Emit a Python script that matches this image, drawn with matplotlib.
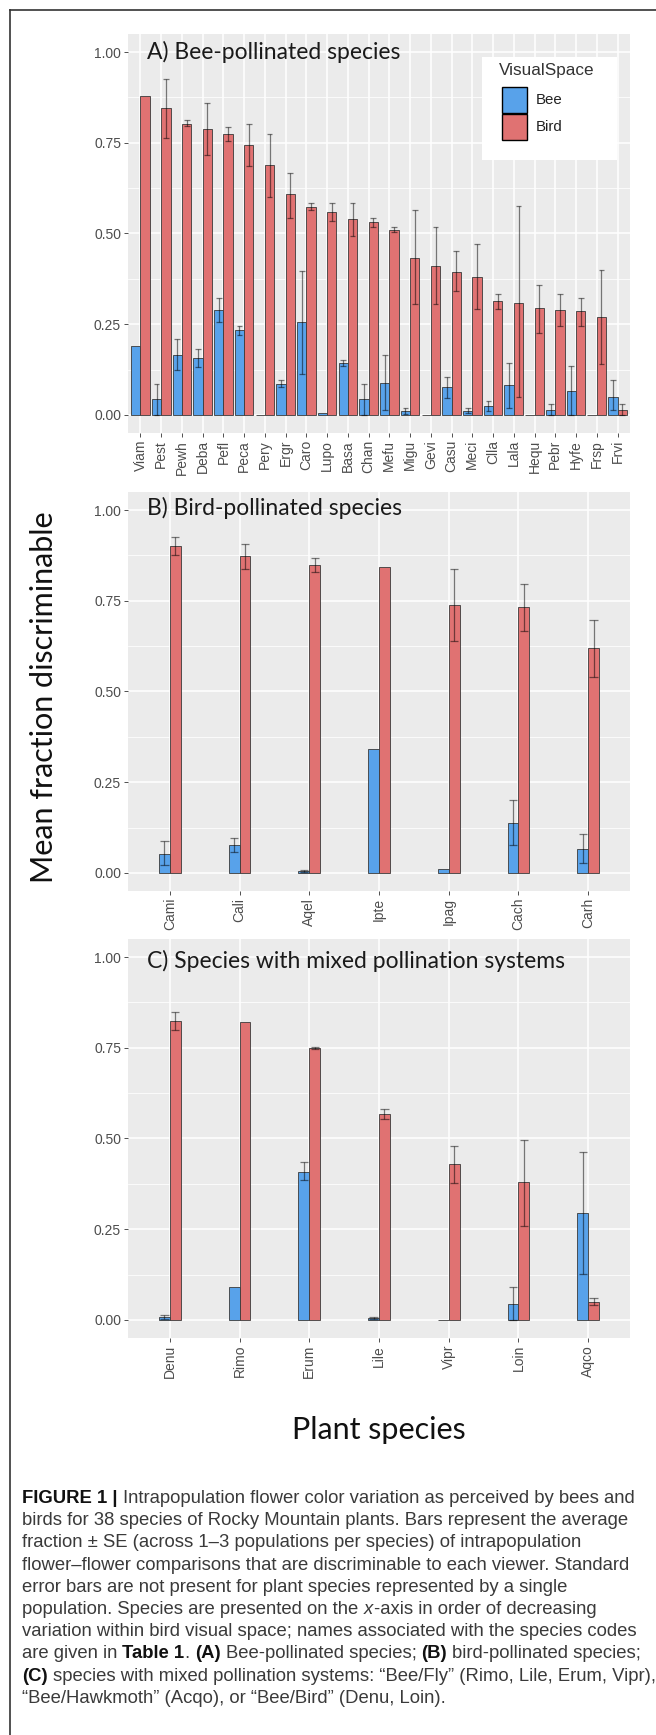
import numpy as np
import matplotlib
matplotlib.use("Agg")
import matplotlib.pyplot as plt
from matplotlib.lines import Line2D
from matplotlib.patches import Rectangle

nan = np.nan

# ---------------- data ----------------
cats_a = ["Viam", "Pest", "Pewh", "Deba", "Pefl", "Peca", "Pery", "Ergr", "Caro", "Lupo",
          "Basa", "Chan", "Mefu", "Migu", "Gevi", "Casu", "Meci", "Clla", "Lala", "Hequ",
          "Pebr", "Hyfe", "Frsp", "Frvi"]
bird_a = [0.878, 0.846, 0.803, 0.787, 0.773, 0.745, 0.688, 0.608, 0.573, 0.560,
          0.540, 0.531, 0.511, 0.433, 0.410, 0.394, 0.380, 0.314, 0.309, 0.295,
          0.290, 0.285, 0.270, 0.014]
bird_a_lo = [nan, 0.764, 0.795, 0.716, 0.755, 0.686, 0.601, 0.544, 0.564, 0.534,
             0.494, 0.518, 0.504, 0.305, 0.305, 0.341, 0.291, 0.291, 0.050, 0.227,
             0.245, 0.245, 0.141, 0.000]
bird_a_hi = [nan, 0.927, 0.812, 0.861, 0.794, 0.803, 0.773, 0.668, 0.583, 0.583,
             0.583, 0.544, 0.518, 0.564, 0.517, 0.451, 0.471, 0.332, 0.575, 0.359,
             0.332, 0.323, 0.398, 0.030]
bee_a = [0.190, 0.043, 0.165, 0.158, 0.290, 0.234, 0.001, 0.085, 0.256, 0.006,
         0.143, 0.043, 0.089, 0.011, 0.001, 0.076, 0.011, 0.025, 0.083, 0.001,
         0.014, 0.067, 0.001, 0.048]
bee_a_lo = [nan, 0.000, 0.123, 0.132, 0.256, 0.220, nan, 0.077, 0.114, nan,
            0.134, 0.000, 0.014, 0.003, nan, 0.047, 0.005, 0.011, 0.018, nan,
            0.000, 0.000, nan, 0.014]
bee_a_hi = [nan, 0.086, 0.208, 0.182, 0.323, 0.245, nan, 0.095, 0.397, nan,
            0.152, 0.086, 0.164, 0.020, nan, 0.105, 0.020, 0.039, 0.143, nan,
            0.030, 0.134, nan, 0.095]

cats_b = ["Cami", "Cali", "Aqel", "Ipte", "Ipag", "Cach", "Carh"]
bird_b = [0.902, 0.873, 0.850, 0.844, 0.739, 0.732, 0.619]
bird_b_lo = [0.876, 0.839, 0.830, nan, 0.638, 0.667, 0.541]
bird_b_hi = [0.925, 0.908, 0.869, nan, 0.837, 0.795, 0.696]
bee_b = [0.053, 0.078, 0.005, 0.342, 0.010, 0.138, 0.067]
bee_b_lo = [0.021, 0.058, 0.003, nan, nan, 0.076, 0.028]
bee_b_hi = [0.087, 0.096, 0.009, nan, nan, 0.200, 0.106]

cats_c = ["Denu", "Rimo", "Erum", "Lile", "Vipr", "Loin", "Aqco"]
bird_c = [0.825, 0.820, 0.750, 0.567, 0.429, 0.379, 0.049]
bird_c_lo = [0.800, nan, 0.746, 0.553, 0.378, 0.260, 0.040]
bird_c_hi = [0.848, nan, 0.753, 0.582, 0.480, 0.496, 0.059]
bee_c = [0.008, 0.090, 0.408, 0.006, 0.001, 0.045, 0.294]
bee_c_lo = [0.003, nan, 0.386, 0.003, nan, 0.000, 0.127]
bee_c_hi = [0.013, nan, 0.434, 0.009, nan, 0.090, 0.463]

yticks = [0.00, 0.25, 0.50, 0.75, 1.00]
ytick_labels = ["0.00", "0.25", "0.50", "0.75", "1.00"]

panel_titles = ["A) Bee-pollinated species", "B) Bird-pollinated species",
                "C) Species with mixed pollination systems"]
legend_title = "VisualSpace"
series_names = ["Bee", "Bird"]
ylabel = "Mean fraction discriminable"
xlabel = "Plant species"

caption_lines = [
    [("FIGURE 1 |", "b"), ("Intrapopulation flower color variation as perceived by bees and", "n")],
    [("birds for 38 species of Rocky Mountain plants. Bars represent the average", "n")],
    [("fraction \u00b1 SE (across 1\u20133 populations per species) of intrapopulation", "n")],
    [("flower\u2013flower comparisons that are discriminable to each viewer. Standard", "n")],
    [("error bars are not present for plant species represented by a single", "n")],
    [("population. Species are presented on the", "n"), ("x", "i"),
     ("-axis in order of decreasing", "nj")],
    [("variation within bird visual space; names associated with the species codes", "n")],
    [("are given in", "n"), ("Table 1", "b"), (".", "nj"), ("(A)", "b"),
     ("Bee-pollinated species;", "n"), ("(B)", "b"), ("bird-pollinated species;", "n")],
    [("(C)", "b"), ("species with mixed pollination systems: \u201cBee/Fly\u201d (Rimo, Lile, Erum, Vipr),", "n")],
    [("\u201cBee/Hawkmoth\u201d (Acqo), or \u201cBee/Bird\u201d (Denu, Loin).", "n")],
]

# ---------------- style ----------------
W, H, DPI = 656, 1735, 100
BEE_COL = "#58A2EA"
BIRD_COL = "#E07272"
PANEL_BG = "#EBEBEB"
TITLE_FONT = ["Lato", "DejaVu Sans"]
CAP_FONT = ["Liberation Sans", "DejaVu Sans"]

fig = plt.figure(figsize=(W / DPI, H / DPI), dpi=DPI)
fig.patch.set_facecolor("white")


def rect(left, top, right, bottom):
    return [left / W, 1 - bottom / H, (right - left) / W, (bottom - top) / H]


def fx(px):
    return px / W


def fy(py):
    return 1 - py / H


def draw_panel(ax, cats, bee, bee_lo, bee_hi, bird, bird_lo, bird_hi, total_w):
    n = len(cats)
    x = np.arange(n)
    ax.set_facecolor(PANEL_BG)
    for s in ax.spines.values():
        s.set_visible(False)
    ax.set_xlim(-0.6, n - 0.4)
    ax.set_ylim(-0.05, 1.05)
    # grid
    for v in [0.125, 0.375, 0.625, 0.875]:
        ax.axhline(v, color="white", lw=0.55, zorder=0)
    for v in yticks:
        ax.axhline(v, color="white", lw=1.1, zorder=0)
    for xi in x:
        ax.axvline(xi, color="white", lw=1.1, zorder=0)
    bw = total_w / 2
    xb = x - bw / 2
    xr = x + bw / 2
    ax.bar(xb, bee, width=bw, color=BEE_COL, edgecolor="#3a3a3a", linewidth=0.6, zorder=2)
    ax.bar(xr, bird, width=bw, color=BIRD_COL, edgecolor="#3a3a3a", linewidth=0.6, zorder=2)
    for xs, ys, lo, hi in [(xb, bee, bee_lo, bee_hi), (xr, bird, bird_lo, bird_hi)]:
        xs = np.asarray(xs); lo = np.asarray(lo); hi = np.asarray(hi)
        m = ~np.isnan(lo)
        ax.vlines(xs[m], lo[m], hi[m], colors="black", alpha=0.5, lw=0.9, zorder=3)
        cw = min(0.14, bw * 0.38)
        ax.hlines(lo[m], xs[m] - cw, xs[m] + cw, colors="black", alpha=0.5, lw=0.9, zorder=3)
        ax.hlines(hi[m], xs[m] - cw, xs[m] + cw, colors="black", alpha=0.5, lw=0.9, zorder=3)
    ax.set_yticks(yticks)
    ax.set_yticklabels(ytick_labels)
    ax.set_xticks(x)
    ax.set_xticklabels(cats, rotation=90)
    ax.tick_params(axis="both", length=3, width=0.6, color="#333333",
                   labelcolor="#4D4D4D", labelsize=10, pad=2)
    for t in ax.get_xticklabels() + ax.get_yticklabels():
        t.set_family(["Liberation Sans", "DejaVu Sans"])


L, R = 128, 630
axA = fig.add_axes(rect(L, 34, R, 433))
axB = fig.add_axes(rect(L, 492, R, 891))
axC = fig.add_axes(rect(L, 939, R, 1338))

draw_panel(axA, cats_a, bee_a, bee_a_lo, bee_a_hi, bird_a, bird_a_lo, bird_a_hi, 0.9)
draw_panel(axB, cats_b, bee_b, bee_b_lo, bee_b_hi, bird_b, bird_b_lo, bird_b_hi, 0.31)
draw_panel(axC, cats_c, bee_c, bee_c_lo, bee_c_hi, bird_c, bird_c_lo, bird_c_hi, 0.31)

# panel titles
for (ax, title, ty) in [(axA, panel_titles[0], 52), (axB, panel_titles[1], 508), (axC, panel_titles[2], 961)]:
    fig.text(fx(147), fy(ty), title, fontsize=16.5, family=TITLE_FONT, color="#1a1a1a",
             ha="left", va="center")

# legend (panel A)
lg = Rectangle((fx(482), fy(160)), fx(617) - fx(482), fy(57) - fy(160), transform=fig.transFigure,
               facecolor="white", edgecolor="none", zorder=5)
fig.patches.append(lg)
fig.text(fx(499), fy(71), legend_title, fontsize=12.3, family=["Liberation Sans"], color="#333333",
         ha="left", va="center", zorder=6)
for i, (name, col) in enumerate(zip(series_names, [BEE_COL, BIRD_COL])):
    top = 87 + i * 27
    fig.patches.append(Rectangle((fx(502), fy(top + 26)), fx(527) - fx(502), fy(top) - fy(top + 26),
                                 transform=fig.transFigure, facecolor=col, edgecolor="black",
                                 linewidth=1.0, zorder=6))
    fig.text(fx(536), fy(top + 13), name, fontsize=10.8, family=["Liberation Sans"], color="#222222",
             ha="left", va="center", zorder=6)

# axis labels
fig.text(fx(44), fy(697), ylabel, rotation=90, fontsize=22, family=TITLE_FONT, color="#111111",
         ha="center", va="center")
fig.text(fx((L + R) / 2), fy(1430), xlabel, fontsize=22, family=TITLE_FONT, color="#111111",
         ha="center", va="center")

# border lines
fig.add_artist(Line2D([fx(10), fx(10)], [fy(10), fy(H)], transform=fig.transFigure, color="#333333", lw=1.2))
fig.add_artist(Line2D([fx(10), fx(W)], [fy(10), fy(10)], transform=fig.transFigure, color="#333333", lw=1.2))

# caption
renderer = fig.canvas.get_renderer()
CAP_SIZE = 13.3


def text_width(s, weight, style):
    t = fig.text(0, 0, s, fontsize=CAP_SIZE, family=CAP_FONT, fontweight=weight, fontstyle=style)
    w = t.get_window_extent(renderer).width
    t.remove()
    return w


space_w = text_width("a a", "normal", "normal") - text_width("aa", "normal", "normal")
y0, dy = 1503, 22.2
for li, runs in enumerate(caption_lines):
    xpos = 22.0
    ypos = y0 + li * dy
    for ri, (s, kind) in enumerate(runs):
        weight = "bold" if kind == "b" else "normal"
        style = "italic" if kind == "i" else "normal"
        if ri > 0 and kind != "nj" and not (runs[ri - 1][1] == "i"):
            xpos += space_w
        col = "#111111" if kind == "b" else "#3a3a3a"
        t = fig.text(fx(xpos), fy(ypos), s, fontsize=CAP_SIZE, family=CAP_FONT, fontweight=weight,
                     fontstyle=style, color=col, ha="left", va="baseline")
        xpos += t.get_window_extent(renderer).width
        if kind == "i":
            xpos += 1.0

fig.savefig("out.png", dpi=DPI)
